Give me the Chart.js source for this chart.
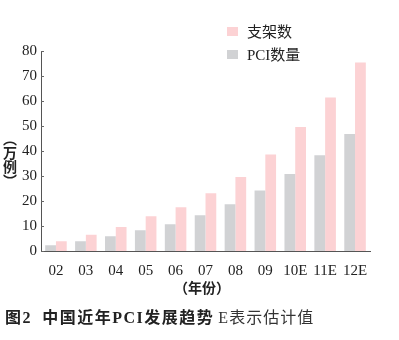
<!DOCTYPE html>
<html>
<head>
<meta charset="utf-8">
<script src="https://cdn.jsdelivr.net/npm/chart.js@4"></script>
<style>
  body { margin: 0; background: #fff; }
  #wrap { position: relative; width: 399px; height: 340px; overflow: hidden; }
  #chart { position: absolute; left: 0; top: 0; }
  .lg { position: absolute; left: 227px; font: 15px "Noto Sans CJK SC", sans-serif; color: #222; line-height: 18px; }
  .lg i { display: inline-block; width: 11px; height: 9px; margin-right: 9px; vertical-align: 1px; }
  .serif { font-family: "Liberation Serif", serif; }
  #ytitle { position: absolute; left: 2px; top: 131px; width: 16px; text-align: center;
            font: bold 14px "Noto Sans CJK SC", sans-serif; color: #222; line-height: 14px; }
  #xtitle { position: absolute; left: 174px; top: 277px; font: bold 14px "Noto Sans CJK SC", sans-serif; color: #222; }
  #caption { position: absolute; left: 5px; top: 304px; font: bold 16px "Noto Sans CJK SC", sans-serif; color: #222;
             white-space: nowrap; letter-spacing: 1.5px; }
  #caption .note { font-weight: normal; color: #333; margin-left: 4px; letter-spacing: 1px; }
</style>
</head>
<body>
<div id="wrap">
  <canvas id="chart" width="399" height="340"></canvas>
  <div class="lg" style="top:22px"><i style="background:#fcd2d4"></i>支架数</div>
  <div class="lg" style="top:45px"><i style="background:#d1d2d4"></i><span class="serif">PCI</span>数量</div>
  <div id="ytitle">︵<br>万<br>例<br>︶</div>
  <div id="xtitle">（年份）</div>
  <div id="caption">图<span class="serif">2</span>&nbsp; 中国近年<span class="serif">PCI</span>发展趋势<span class="note"><span class="serif">E</span>表示估计值</span></div>
</div>
<script>
const years = ['02', '03', '04', '05', '06', '07', '08', '09', '10E', '11E', '12E'];
const pciCount = [2.3, 3.9, 5.9, 8.3, 10.7, 14.3, 18.7, 24.2, 30.8, 38.3, 46.8];
const stentCount = [3.9, 6.5, 9.6, 13.9, 17.5, 23.1, 29.6, 38.6, 49.6, 61.4, 75.4];
const yTicks = [0, 10, 20, 30, 40, 50, 60, 70, 80];

// short inward tick marks on the y axis
const innerTicks = {
    id: 'innerTicks',
    afterDraw(chart) {
        const ctx = chart.ctx;
        const y = chart.scales.y;
        const left = chart.chartArea.left;
        ctx.save();
        ctx.strokeStyle = '#666';
        ctx.lineWidth = 1;
        yTicks.forEach(v => {
            const py = Math.round(y.getPixelForValue(v)) + 0.5;
            ctx.beginPath();
            ctx.moveTo(left, py);
            ctx.lineTo(left + 3, py);
            ctx.stroke();
        });
        ctx.restore();
    }
};

new Chart(document.getElementById('chart'), {
    type: 'bar',
    data: {
        labels: years,
        datasets: [{
            label: 'PCI数量',
            data: pciCount,
            backgroundColor: '#d1d2d4'
        }, {
            label: '支架数',
            data: stentCount,
            backgroundColor: '#fcd2d4'
        }]
    },
    options: {
        responsive: false,
        animation: false,
        layout: {
            padding: { left: 0, top: 51, right: 29, bottom: 60 }
        },
        plugins: {
            legend: { display: false },
            tooltip: { enabled: false }
        },
        datasets: {
            bar: { categoryPercentage: 0.72, barPercentage: 1 }
        },
        scales: {
            x: {
                grid: { display: false, drawTicks: false },
                border: { color: '#555', width: 1 },
                ticks: {
                    color: '#222',
                    padding: 11,
                    maxRotation: 0,
                    autoSkip: false,
                    font: { family: 'Liberation Serif', size: 15 }
                },
                afterFit: s => { s.height = 29; }
            },
            y: {
                min: 0,
                max: 80,
                afterBuildTicks: s => { s.ticks = yTicks.map(v => ({ value: v })); },
                grid: { display: false, drawTicks: false },
                border: { color: '#555', width: 1 },
                ticks: {
                    color: '#222',
                    padding: 4,
                    font: { family: 'Liberation Serif', size: 15 }
                },
                afterFit: s => { s.width = 41; }
            }
        }
    },
    plugins: [innerTicks]
});
</script>
</body>
</html>
